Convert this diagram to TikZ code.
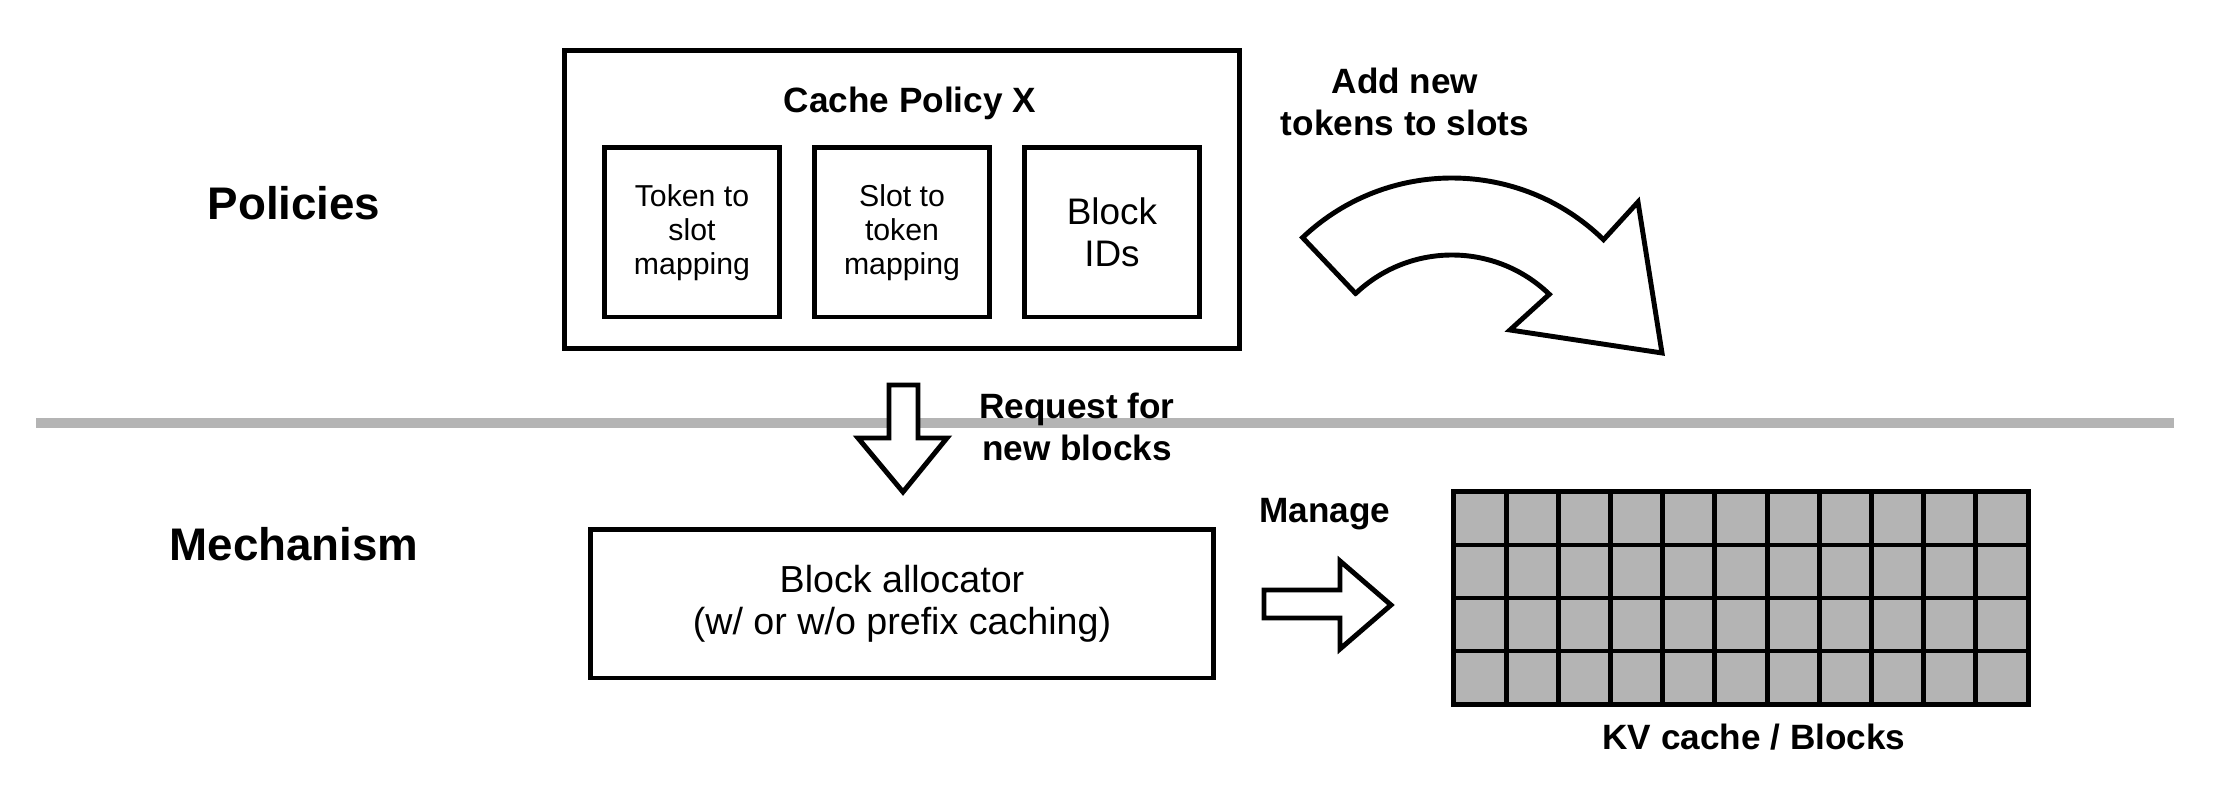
\documentclass[tikz,border=0pt]{standalone}
\usepackage{fontspec}
\setmainfont{Liberation Sans}
\usetikzlibrary{positioning}
\definecolor{sepgray}{RGB}{180,180,180}

\begin{document}
\begin{tikzpicture}[x=0.01cm,y=-0.01cm,
    box/.style={draw,line width=1.4pt,inner sep=0pt,align=center},
    lbl/.style={font=\fontsize{10}{11.8}\selectfont\bfseries,align=center},
    side/.style={font=\fontsize{13}{15}\selectfont\bfseries},
    fatarrow/.style={draw,line width=1.4pt,line join=miter,fill=white}]
    \useasboundingbox (0,0) rectangle (2238,798);

    % Separator
    \coordinate (sepl) at (36,423);
    \coordinate (sepr) at (2174,423);
    \draw[sepgray,line width=3.1pt] (sepl) -- (sepr);

    % Row titles
    \node[side] (pol) at (294,203) {Policies};
    \node[side] (mech) at (294,544) {Mechanism};

    % Cache policy
    \node[box,minimum width=6.75cm,minimum height=2.97cm] (policy) at (902,199.5) {};
    \node[lbl] (ptitle) at (910,103) {Cache Policy X};
    \node[box,minimum width=1.74cm,minimum height=1.69cm,font=\fontsize{8.6}{9.7}\selectfont] (tok) at (692,232.5) {Token to\\slot\\mapping};
    \node[box,minimum width=1.74cm,minimum height=1.69cm,font=\fontsize{8.6}{9.7}\selectfont] (slot) at (902,232.5) {Slot to\\token\\mapping};
    \node[box,minimum width=1.74cm,minimum height=1.69cm,font=\fontsize{10.5}{11.8}\selectfont] (bid) at (1112,232.5) {Block\\IDs};

    % Request arrow
    \draw[fatarrow] (889,385) -- (918,385) -- (918,438) -- (947,438) -- (903,492) -- (858,438) -- (889,438) -- cycle;
    \node[lbl] (req) at (1077,427) {Request for\\new blocks};

    % Block allocator
    \node[box,minimum width=6.22cm,minimum height=1.48cm,font=\fontsize{10.7}{11.8}\selectfont] (alloc) at (902,604) {Block allocator\\(w/ or w/o prefix caching)};

    % Manage arrow
    \draw[fatarrow] (1264,590) -- (1340,590) -- (1340,561) -- (1391,605) -- (1340,649) -- (1340,618) -- (1264,618) -- cycle;
    \node[lbl] (mng) at (1325,514) {Manage};

    % KV cache
    \node[box,fill=sepgray,minimum width=5.74cm,minimum height=2.12cm] (kv) at (1741,598) {};
    \foreach \i in {1,...,10}
        \draw[line width=1.4pt] ({1454+\i*52.18},492) -- ({1454+\i*52.18},704);
    \foreach \j in {1,2,3}
        \draw[line width=1.4pt] (1454,{492+\j*53}) -- (2028,{492+\j*53});
    \node[lbl] (kvlbl) at (1754,737) {KV cache / Blocks};

    % Add new tokens arrow
    \node[lbl] (add) at (1405,102) {Add new\\tokens to slots};
    \draw[fatarrow] (1355.6,293.5) -- (1302.6,237.6) arc[start angle=-133.5,end angle=-45.7,radius=217]
        -- (1638,202) -- (1662,353) -- (1510,330) -- (1549.3,294.3) arc[start angle=-46,end angle=-133.5,radius=140] -- cycle;
\end{tikzpicture}
\end{document}
